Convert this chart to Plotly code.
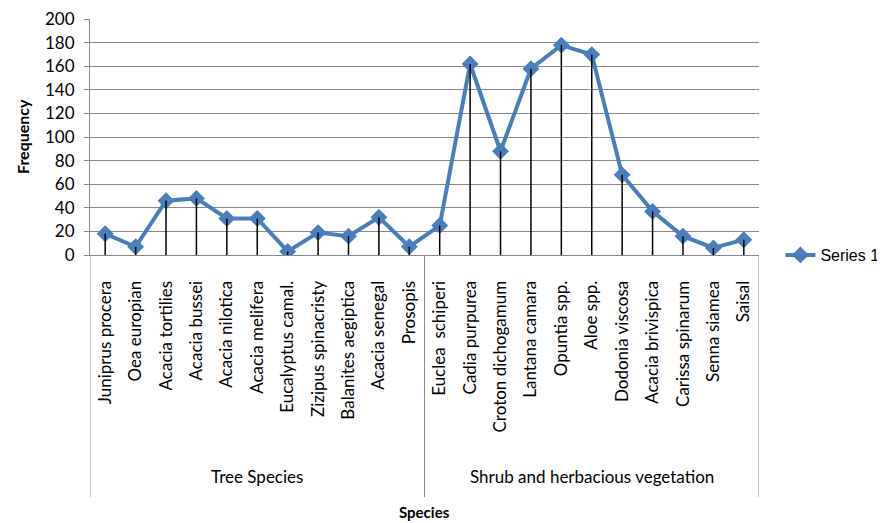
import plotly.graph_objects as go

tree_species = ["Juniprus procera", "Oea europian", "Acacia tortilies", "Acacia bussei",
                "Acacia nilotica", "Acacia melifera", "Eucalyptus camal.", "Zizipus spinacristy",
                "Balanites aegiptica", "Acacia senegal", "Prosopis"]
tree_values = [18, 7, 46, 48, 31, 31, 3, 19, 16, 32, 7]

shrub_species = ["Euclea  schiperi", "Cadia purpurea", "Croton dichogamum", "Lantana camara",
                 "Opuntia spp.", "Aloe spp.", "Dodonia viscosa", "Acacia brivispica",
                 "Carissa spinarum", "Senna siamea", "Saisal"]
shrub_values = [25, 162, 88, 158, 178, 170, 68, 37, 16, 6, 13]

group_names = ["Tree Species", "Shrub and herbacious vegetation"]
series_name = "Series 1"
y_ticks = [0, 20, 40, 60, 80, 100, 120, 140, 160, 180, 200]

categories = tree_species + shrub_species
values = tree_values + shrub_values
groups = [tree_species, shrub_species]

FONT = "Lato"
GRID = "#878787"
BLUE = "#4A7EBB"

fig = go.Figure()

fig.add_trace(go.Scatter(x=categories, y=values, mode="lines+markers", name=series_name,
                         line=dict(color=BLUE, width=4),
                         marker=dict(symbol="diamond", size=13, color=BLUE)))

# drop lines
dx, dy = [], []
for c, v in zip(categories, values):
    dx += [c, c, None]
    dy += [0, v, None]
fig.add_trace(go.Scatter(x=dx, y=dy, mode="lines", line=dict(color="black", width=1.5),
                         showlegend=False, hoverinfo="skip"))

PLOT_H = 236.0
def py(pix):
    # absolute pixel row below the plot bottom (y=255) -> paper coordinate
    return -(pix - 255) / PLOT_H

shapes = []
annotations = []
bounds = [-0.5]
for g in groups:
    bounds.append(bounds[-1] + len(g))
for b in bounds:
    shapes.append(dict(type="line", xref="x", yref="paper", x0=b, x1=b, y0=0, y1=py(497),
                       line=dict(color=GRID, width=1)))
for i, name in enumerate(group_names):
    annotations.append(dict(text=name, xref="x", yref="paper", x=(bounds[i] + bounds[i + 1]) / 2,
                            y=py(476), showarrow=False, yanchor="middle",
                            font=dict(family=FONT, size=17, color="black")))
annotations.append(dict(text="<b>Species</b>", xref="paper", yref="paper", x=0.5, y=py(512),
                        showarrow=False, yanchor="middle", font=dict(family=FONT, size=15, color="black")))
annotations.append(dict(text="<b>Frequency</b>", xref="paper", yref="paper", x=-0.1016, y=0.5,
                        textangle=-90, showarrow=False, xanchor="center", yanchor="middle",
                        font=dict(family=FONT, size=16, color="black")))

# the page body has an 8px margin; size the figure so the plot area lands where it should
fig.update_layout(
    width=877, height=515,
    margin=dict(l=82, r=126, t=11, b=268, autoexpand=False),
    paper_bgcolor="white", plot_bgcolor="white",
    font=dict(family=FONT, size=17, color="black"),
    xaxis=dict(type="category", categoryorder="array", categoryarray=categories,
               range=[-0.5, len(categories) - 0.5], tickangle=-90, showgrid=False,
               showline=True, linecolor=GRID, linewidth=1, ticks="", ticklabelstandoff=18,
               automargin=False,
               tickfont=dict(family=FONT, size=17, color="black"), zeroline=False),
    yaxis=dict(range=[0, 200.2], tickvals=y_ticks, showgrid=True, gridcolor=GRID, gridwidth=1,
               showline=True, linecolor=GRID, linewidth=1, ticks="outside", ticklen=5,
               automargin=False, ticklabeloverflow="allow", ticklabelstandoff=6,
               tickcolor=GRID, zeroline=False, tickfont=dict(family=FONT, size=17, color="black")),
    legend=dict(x=1.032, y=0.0, xanchor="left", yanchor="middle", bgcolor="rgba(0,0,0,0)",
                font=dict(family="Liberation Sans", size=16, color="black")),
    shapes=shapes, annotations=annotations,
    showlegend=True,
)

fig.write_html("out.html")
